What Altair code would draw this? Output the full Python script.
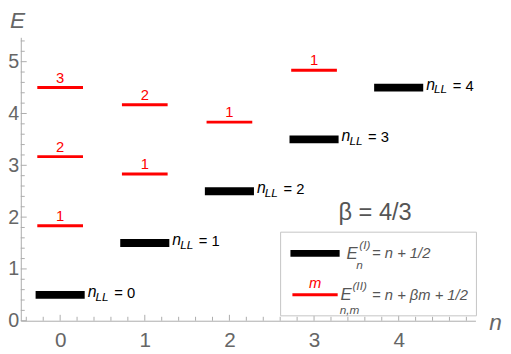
import altair as alt
import pandas as pd

# ---- data ----
n_levels = [0, 1, 2, 3, 4]
E_I = [0.5, 1.5, 2.5, 3.5, 4.5]
ll_labels = ["= 0", "= 1", "= 2", "= 3", "= 4"]

red_n = [0, 0, 0, 1, 1, 2, 3]
red_m = ["1", "2", "3", "1", "2", "1", "1"]
red_E = [1.833, 3.167, 4.5, 2.833, 4.167, 3.833, 4.833]

x_major = [0, 1, 2, 3, 4]
y_major = [0, 1, 2, 3, 4, 5]
x_minor = [-0.4, -0.2, 0.2, 0.4, 0.6, 0.8, 1.2, 1.4, 1.6, 1.8, 2.2, 2.4, 2.6, 2.8,
           3.2, 3.4, 3.6, 3.8, 4.2, 4.4, 4.6, 4.8]
y_minor = [0.2, 0.4, 0.6, 0.8, 1.2, 1.4, 1.6, 1.8, 2.2, 2.4, 2.6, 2.8,
           3.2, 3.4, 3.6, 3.8, 4.2, 4.4, 4.6, 4.8, 5.2, 5.4]

black = pd.DataFrame({"n": n_levels, "E": E_I, "lab": ll_labels})
black["x1"] = black["n"] - 0.29
black["x2"] = black["n"] + 0.29
red = pd.DataFrame({"n": red_n, "m": red_m, "E": red_E})
red["x1"] = red["n"] - 0.27
red["x2"] = red["n"] + 0.27

W, H = 462, 288
FONT = "Liberation Sans"
AX = "#ababab"
GRAY = "#666666"

xs = alt.Scale(domain=[-0.465, 4.907], nice=False, zero=False)
ys = alt.Scale(domain=[0, 5.47], nice=False, zero=False)
xaxis = alt.Axis(values=x_major, ticks=False, grid=False, domainColor=AX, labelColor=GRAY,
                 labelFontSize=21, labelFont=FONT, labelPadding=9, title=None, format="d")
yaxis = alt.Axis(values=y_major, ticks=False, grid=False, domainColor=AX, labelColor=GRAY,
                 labelFontSize=20, labelFont=FONT, labelPadding=2, title=None, format="d")


def X(f):
    return alt.X(f, type="quantitative", scale=xs, axis=xaxis)


def Y(f):
    return alt.Y(f, type="quantitative", scale=ys, axis=yaxis)


one = pd.DataFrame({"a": [0]})

layers = []

# ticks (inward)
layers.append(alt.Chart(pd.DataFrame({"v": x_major})).mark_rule(color=AX).encode(
    x=X("v"), y=alt.value(H), y2=alt.value(H - 6)))
layers.append(alt.Chart(pd.DataFrame({"v": x_minor})).mark_rule(color=AX).encode(
    x=X("v"), y=alt.value(H), y2=alt.value(H - 4)))
layers.append(alt.Chart(pd.DataFrame({"v": y_major})).mark_rule(color=AX).encode(
    y=Y("v"), x=alt.value(0), x2=alt.value(6)))
layers.append(alt.Chart(pd.DataFrame({"v": y_minor})).mark_rule(color=AX).encode(
    y=Y("v"), x=alt.value(0), x2=alt.value(4)))

# black levels
layers.append(alt.Chart(black).mark_rule(color="black", strokeWidth=8, strokeCap="butt").encode(
    x=X("x1"), x2="x2", y=Y("E")))
layers.append(alt.Chart(black).mark_text(text="n", align="left", baseline="alphabetic",
                                         font=FONT, fontStyle="italic", fontSize=16, dx=3, dy=2,
                                         color="black").encode(x=X("x2"), y=Y("E")))
layers.append(alt.Chart(black).mark_text(text="LL", align="left", baseline="alphabetic",
                                         font=FONT, fontStyle="italic", fontSize=12, dx=11, dy=6,
                                         color="black").encode(x=X("x2"), y=Y("E")))
layers.append(alt.Chart(black).mark_text(align="left", baseline="alphabetic",
                                         font=FONT, fontSize=15, dx=30, dy=3,
                                         color="black").encode(x=X("x2"), y=Y("E"), text="lab:N"))

# red levels
layers.append(alt.Chart(red).mark_rule(color="#ff0000", strokeWidth=3, strokeCap="butt").encode(
    x=X("x1"), x2="x2", y=Y("E")))
layers.append(alt.Chart(red).mark_text(align="center", baseline="alphabetic", font=FONT,
                                       fontSize=15, dy=-5, color="#ff0000").encode(
    x=X("n"), y=Y("E"), text="m:N"))

# beta annotation
layers.append(alt.Chart(one).mark_text(text="β = 4/3", align="center", baseline="alphabetic",
                                       font=FONT, fontSize=24, color="#555555").encode(
    x=alt.value(360), y=alt.value(186)))

# legend box
layers.append(alt.Chart(one).mark_rect(fill="white", stroke="#c4c4c4", strokeWidth=1).encode(
    x=alt.value(264), x2=alt.value(463), y=alt.value(198), y2=alt.value(283)))
layers.append(alt.Chart(one).mark_rule(color="black", strokeWidth=7, strokeCap="butt").encode(
    x=alt.value(274), x2=alt.value(324), y=alt.value(219.5)))
layers.append(alt.Chart(one).mark_rule(color="#ff0000", strokeWidth=3, strokeCap="butt").encode(
    x=alt.value(276), x2=alt.value(322), y=alt.value(261.5)))


def txt(t, x, y, size, color="#555555", style="italic", align="left"):
    return alt.Chart(one).mark_text(text=t, align=align, baseline="alphabetic", font=FONT,
                                    fontSize=size, fontStyle=style, color=color).encode(
        x=alt.value(x), y=alt.value(y))


layers += [
    txt("m", 299, 255, 15, color="#ff0000", align="center"),
    txt("E", 331, 225, 17),
    txt("(I)", 344, 215, 12),
    txt("n", 341, 235, 12),
    txt("= n + 1/2", 357, 224, 15),
    txt("E", 325, 267, 17),
    txt("(II)", 337, 257, 12),
    txt("n,m", 324, 281, 12),
    txt("= n + βm + 1/2", 357, 267, 15),
    # axis titles
    txt("E", -11, -9, 23, color=GRAY),
    txt("n", 476, 297, 23, color=GRAY),
]

chart = alt.layer(*layers).properties(
    width=W, height=H,
    autosize=alt.AutoSizeParams(type="none"),
    padding={"left": 13, "top": 27, "right": 28, "bottom": 31},
).configure_view(stroke=None)

chart.save("out.html", embed_options={"renderer": "svg", "actions": False})
